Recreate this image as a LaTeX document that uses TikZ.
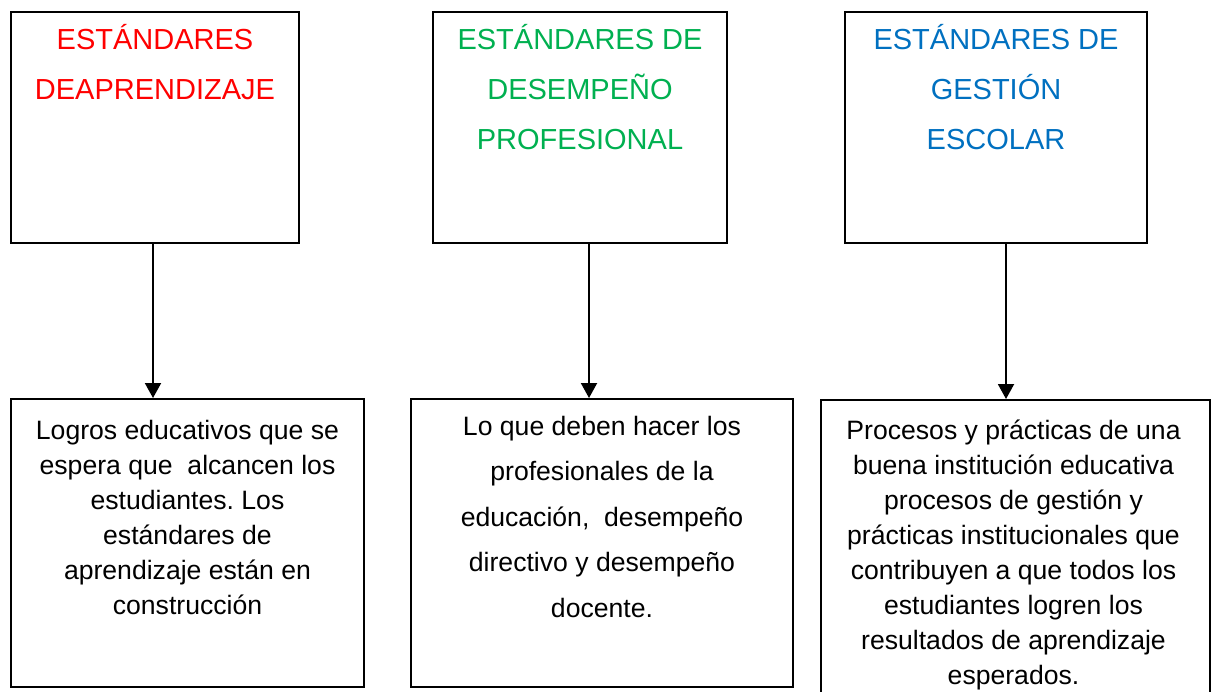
\documentclass[tikz,border=0pt]{standalone}
\usepackage{fontspec}
\setmainfont{Liberation Sans}
\usepackage{tikz}
\usetikzlibrary{arrows.meta,positioning}
\definecolor{titlered}{RGB}{255,0,0}
\definecolor{titlegreen}{RGB}{0,176,80}
\definecolor{titleblue}{RGB}{0,112,192}
\frenchspacing

\begin{document}
\begin{tikzpicture}
[x=0.5pt,y=-0.5pt,
 box/.style={draw=black,line width=1pt,inner sep=0pt},
 head/.style={anchor=base,inner sep=0pt,font=\fontsize{14.5}{25}\selectfont},
 body/.style={anchor=base,inner sep=0pt,font=\fontsize{13.3}{17.5}\selectfont},
 arr/.style={line width=1pt,-{Triangle[length=7.5pt,width=8pt]}}]
\useasboundingbox (0,0) rectangle (1218,691);

% upper boxes
\node[box,minimum width=144pt,minimum height=115.5pt] (h1) at (155,127.5) {};
\node[box,minimum width=147pt,minimum height=115.5pt] (h2) at (580,127.5) {};
\node[box,minimum width=151pt,minimum height=115.5pt] (h3) at (996,127.5) {};

\node[head,titlered] (t1) at ([yshift=-19pt]h1.north)
  {\begin{tabular}[t]{@{}c@{}}ESTÁNDARES\\DEAPRENDIZAJE\end{tabular}};
\node[head,titlegreen] (t2) at ([yshift=-19pt]h2.north)
  {\begin{tabular}[t]{@{}c@{}}ESTÁNDARES DE\\DESEMPEÑO\\PROFESIONAL\end{tabular}};
\node[head,titleblue] (t3) at ([yshift=-19pt]h3.north)
  {\begin{tabular}[t]{@{}c@{}}ESTÁNDARES DE\\GESTIÓN\\ESCOLAR\end{tabular}};

% lower boxes
\node[box,minimum width=176.5pt,minimum height=144pt] (b1) at (187.5,543) {};
\node[box,minimum width=191pt,minimum height=144pt] (b2) at (602,543) {};
\node[box,minimum width=194.5pt,minimum height=147.5pt] (b3) at (1015.5,547.5) {};

\node[body] (d1) at ([yshift=-20.5pt]b1.north)
  {\begin{tabular}[t]{@{}c@{}}Logros educativos que se\\espera que\ \ alcancen los\\estudiantes. Los\\estándares de\\aprendizaje están en\\construcción\end{tabular}};
\node[body,font=\fontsize{13.3}{22.75}\selectfont] (d2) at ([yshift=-18.5pt]b2.north)
  {\begin{tabular}[t]{@{}c@{}}Lo que deben hacer los\\profesionales de la\\educación,\ \ desempeño\\directivo y desempeño\\docente.\end{tabular}};
\node[body] (d3) at ([yshift=-20pt,xshift=-1pt]b3.north)
  {\begin{tabular}[t]{@{}c@{}}Procesos y prácticas de una\\buena institución educativa\\procesos de gestión y\\prácticas institucionales que\\contribuyen a que todos los\\estudiantes logren los\\resultados de aprendizaje\\esperados.\end{tabular}};

% arrows
\draw[arr] ([xshift=-1pt]h1.south) -- ([xshift=-1pt]h1.south |- b1.north);
\draw[arr] ([xshift=4.5pt]h2.south) -- ([xshift=4.5pt]h2.south |- b2.north);
\draw[arr] ([xshift=5pt]h3.south) -- ([xshift=5pt]h3.south |- b3.north);
\end{tikzpicture}
\end{document}
